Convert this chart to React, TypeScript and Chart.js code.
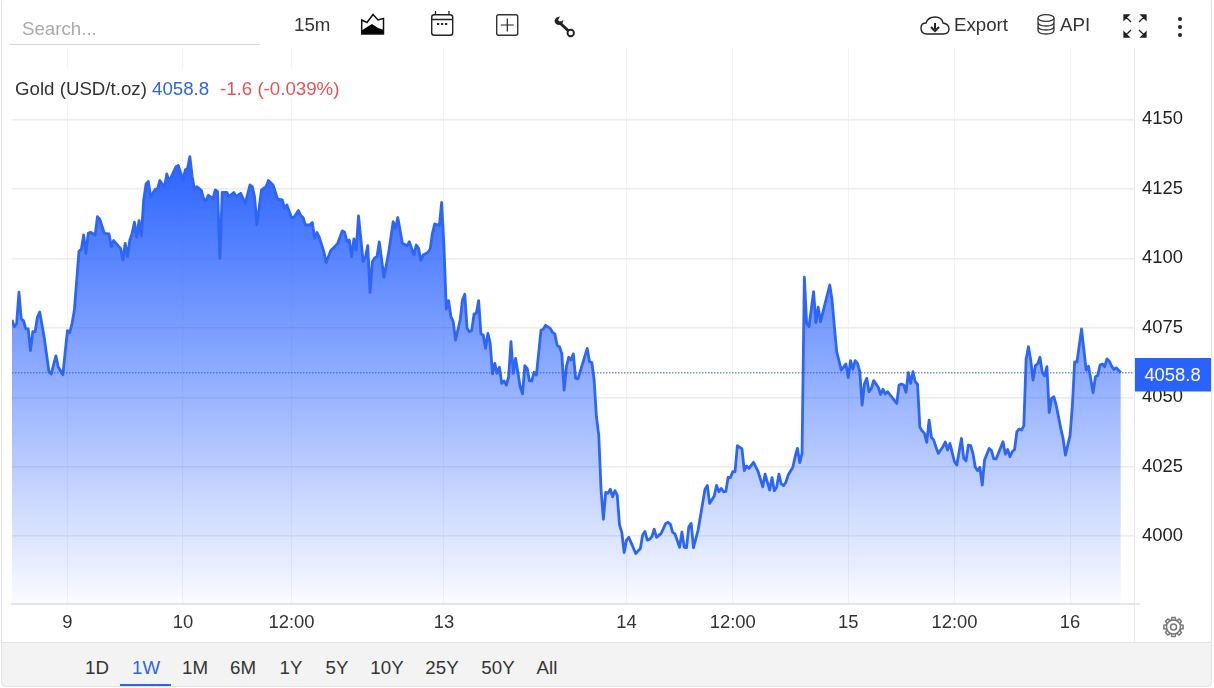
import React, { useEffect, useRef } from "react";
import { Chart, registerables } from "chart.js";

Chart.register(...registerables);

// 15-minute bar number of each reading
const bars = [
  0,1,2,3,4,5,6,7,8,9,10,11,12,14,16,17,19,20,22,24,25,26,27,29,30,31,32,33,34,36,37,38,40,42,43,44,46,47,48,49,50,51,52,53,54,55,56,57,58,59,60,62,63,64,66,67,68,71,72,74,75,76,77,78,79,80,82,83,84,85,87,88,89,90,91,93,94,96,97,99,101,103,104,105,106,108,110,111,113,115,117,118,119,121,
  122,124,125,126,127,129,130,131,132,133,135,136,138,139,141,143,144,145,146,147,148,149,150,152,153,154,155,156,157,158,159,161,163,165,166,167,169,171,172,174,175,176,177,178,180,181,182,183,185,186,187,188,189,190,191,192,194,195,196,197,198,199,200,201,202,203,204,205,206,207,208,209,210,211,212,213,214,215,216,217,218,220,221,222,223,224,225,226,227,229,230,231,233,234,235,236,237,238,239,240,241,242,243,244,245,249,250,251,252,
  253,254,255,256,257,258,259,260,261,262,263,264,265,266,267,268,270,272,273,274,275,276,277,278,279,281,283,284,285,286,287,289,290,291,292,293,294,295,297,300,301,302,304,305,306,307,308,309,310,311,312,313,314,316,317,318,319,321,323,325,326,328,329,330,331,332,333,334,335,336,338,339,340,341,342,
  343,344,345,347,348,349,350,354,355,356,357,359,361,362,363,364,365,366,367,368,369,370,371,372,373,375,376,377,378,379,383,384,385,386,387,388,389,390,391,392,393,394,395,396,397,398,399,400,401,402,403,404,405,406,408,409,411,412,413,414,415,416,417,418,419,420,421,423,424,425,426,429,430,431,432,433,434,435,436,437,438,439,440,441,442,443,444,445,446,447,448,449,450,451,452,454,455,456,458,459,460,461,463,465,466,468,469,470,471,472,473,474,475,476,477,478,480,
];

// Gold price at each of those bars (USD/t.oz)
const prices = [
  4077.8,4075.4,4076.4,4087.8,4078.2,4077.5,4074.6,4074.6,4066.8,4073.6,4073.6,4078.8,4080.7,4071.2,4059.2,4058.4,4064.9,4061.0,4058.1,4074.0,4073.3,4076.6,4081.4,4102.6,4103.2,4108.4,4101.8,4109.0,4109.4,4108.4,4115.0,4114.1,4109.0,4108.8,4104.2,4106.4,4104.5,4103.6,4099.4,4105.4,4100.6,4106.6,4109.0,4113.0,4107.6,4113.6,4108.0,4121.0,4126.7,4127.7,4122.2,4124.9,4124.9,4128.0,4125.6,4130.4,4127.6,4133.0,4133.4,4128.2,4131.8,4132.4,4136.6,4129.4,4124.9,4125.8,4124.4,4121.3,4120.8,4122.7,4121.5,4124.6,4124.0,4100.0,4123.7,4123.7,4122.2,4123.7,4122.2,4123.4,4119.8,4126.4,4125.8,4122.2,4112.0,4124.6,4125.8,4128.0,4126.4,4121.3,4121.0,4118.0,4119.2,4114.7,
  4114.7,4117.2,4115.4,4114.7,4112.0,4112.0,4112.9,4107.2,4109.3,4107.6,4102.4,4098.5,4102.8,4103.6,4105.4,4109.9,4109.4,4106.0,4106.6,4100.6,4107.0,4103.0,4115.3,4098.8,4100.4,4104.6,4087.7,4098.8,4100.1,4100.6,4105.9,4093.2,4101.8,4113.2,4110.8,4114.7,4105.4,4104.5,4106.0,4101.2,4104.8,4103.6,4099.2,4101.2,4102.1,4103.3,4109.0,4112.4,4111.8,4120.1,4104.2,4081.7,4084.8,4079.0,4077.2,4070.6,4077.8,4085.0,4087.1,4074.8,4073.6,4074.0,4079.9,4080.2,4084.8,4072.8,4072.4,4067.6,4073.0,4069.4,4058.4,4062.2,4058.6,4060.8,4055.0,4055.9,4054.4,4057.4,4070.0,4058.6,4064.0,4053.8,4051.2,4061.4,4060.4,4055.9,4055.9,4059.0,4058.0,4074.2,4074.5,4075.9,4074.8,4073.3,4072.8,4068.6,4068.2,4065.8,4052.6,4061.0,4064.4,4063.4,4065.6,4056.8,4056.6,4067.6,4062.8,4062.5,4056.2,
  4043.0,4036.4,4016.6,4006.1,4015.8,4015.4,4016.9,4014.2,4016.4,4014.8,4004.0,4001.3,3994.1,3998.6,3999.6,3997.7,3993.8,3995.6,4000.4,4001.7,3998.6,3998.9,3999.8,4002.5,3999.6,4001.0,4004.6,4005.0,4004.3,4001.4,4000.8,3996.0,4001.5,3996.0,3995.9,4003.4,4004.6,3995.9,4002.2,4016.9,4018.3,4011.8,4014.5,4018.3,4016.0,4017.2,4016.0,4016.1,4021.2,4021.1,4023.2,4023.2,4032.6,4031.4,4023.6,4025.3,4024.4,4026.6,4023.2,4017.8,4022.3,4016.6,4021.1,4016.4,4017.6,4022.3,4018.8,4018.2,4019.4,4022.0,4024.8,4028.6,4031.6,4026.5,4029.8,
  4093.2,4076.6,4075.4,4088.0,4076.9,4082.4,4077.2,4090.4,4085.0,4075.4,4066.4,4059.8,4062.0,4057.1,4063.2,4060.1,4063.2,4062.2,4059.2,4047.2,4054.8,4056.8,4052.0,4053.2,4056.0,4053.6,4051.0,4052.9,4051.2,4052.0,4047.8,4054.4,4054.8,4054.4,4051.8,4058.9,4055.0,4059.2,4055.6,4054.7,4039.2,4037.9,4037.0,4033.8,4041.8,4035.6,4034.6,4032.0,4029.8,4031.0,4032.2,4033.9,4031.0,4033.4,4026.8,4025.6,4035.2,4028.0,4027.1,4032.8,4032.6,4029.8,4024.8,4023.6,4024.8,4018.4,4027.4,4031.6,4030.8,4027.8,4027.8,4034.0,4029.5,4031.2,4028.6,4030.4,4031.2,4037.6,4038.6,4038.2,4039.7,4063.8,4068.2,4063.4,4056.2,4061.4,4062.0,4064.4,4058.9,4057.7,4061.0,4044.5,4049.6,4050.2,4047.2,4038.8,4035.2,4029.2,4036.2,4046.6,4062.7,4062.7,4074.6,4059.8,4061.2,4051.7,4057.4,4057.8,4061.6,4062.0,4061.0,4063.8,4063.0,4061.2,4060.0,4060.6,4058.8,
];

const lastPrice = 4058.8;
const xTickBars = [24, 74, 121, 187, 266, 312, 362, 408, 458];
const xTickLabels = ["9", "10", "12:00", "13", "14", "12:00", "15", "12:00", "16"];
const yTickValues = [4000, 4025, 4050, 4075, 4100, 4125, 4150];
const ranges = ["1D", "1W", "1M", "6M", "1Y", "5Y", "10Y", "25Y", "50Y", "All"];
const rangeCentres = [97, 146, 195, 243, 291, 337, 387, 442, 498, 547];

const BLUE = "#2962ff";
const FONT = '"Liberation Sans", Arial, sans-serif';
const FS = 18.4;
const HTML_FS = 18.7;

const lastPricePlugin = {
  id: "lastPriceBox",
  afterDraw(chart: any) {
    const { ctx, scales } = chart;
    const y = Math.round(scales.y.getPixelForValue(lastPrice));
    ctx.save();
    ctx.fillStyle = BLUE;
    ctx.fillRect(1135, y - 15, 76, 33.5);
    ctx.fillStyle = "#fff";
    ctx.font = `${FS}px ${FONT}`;
    ctx.textAlign = "center";
    ctx.textBaseline = "middle";
    ctx.fillText(String(lastPrice), 1172.5, y + 3);
    ctx.restore();
  },
};

const txt = (left: number, top: number, s: string, extra: any = {}) => (
  <div
    key={s + left}
    style={{
      position: "absolute",
      left,
      top,
      fontFamily: FONT,
      fontSize: HTML_FS,
      lineHeight: "22px",
      color: "#333",
      whiteSpace: "nowrap",
      ...extra,
    }}
  >
    {s}
  </div>
);

function Icons() {
  return (
    <svg width={1214} height={688} style={{ position: "absolute", left: 0, top: 0, pointerEvents: "none" }}>
      {/* area chart */}
      <path d="M361 34 V31 L367 27 L372 24 L378 28 L384 30 V34 Z" fill="#000" />
      <path d="M361.7 34 V20 L367 22.5 L373 14.5 L378 20 L383.5 18.5 V34 Z" fill="none" stroke="#111" strokeWidth="1.5" />
      {/* calendar */}
      <rect x="431.7" y="14.7" width="21" height="20.6" rx="2.5" fill="none" stroke="#222" strokeWidth="1.4" />
      <path d="M432 19.5 H452.5 M435.5 11 V15 M449 11 V15" stroke="#222" strokeWidth="1.3" />
      <path d="M437 24 h2.2 M441 24 h2.2 M445 24 h2.2" stroke="#222" strokeWidth="2" />
      {/* plus box */}
      <rect x="496.7" y="14.7" width="21" height="20.6" rx="2" fill="none" stroke="#333" strokeWidth="1.4" />
      <path d="M507.3 18.5 V31.5 M500.8 25 H513.8" stroke="#222" strokeWidth="1.2" />
      {/* wrench */}
      <path d="M559 22 L568.5 31" stroke="#222" strokeWidth="3" />
      <path d="M554.5 20.5 Q555.5 17 560 16.5 L558 20 L560 22 L563.5 20 Q563 24.5 558.5 25 Q555 24.5 554.5 20.5 Z" fill="#222" />
      <circle cx="570.7" cy="33" r="3.2" fill="none" stroke="#222" strokeWidth="1.9" />
      {/* cloud */}
      <path d="M927 34 Q921 34 921 28 Q921 23 926 23 Q928 17 935 17 Q942 17 943 23 Q949 24 949 29 Q949 34 943 34 Z" fill="none" stroke="#222" strokeWidth="1.4" />
      <path d="M935 23 V29 M931 27 L935 31 L939 27" fill="none" stroke="#222" strokeWidth="2" />
      {/* database */}
      <ellipse cx="1046" cy="18" rx="8" ry="3.4" fill="none" stroke="#333" strokeWidth="1.3" />
      <path d="M1038 18 V30 Q1038 34 1046 34 Q1054 34 1054 30 V18 M1038 22 Q1038 26 1046 26 Q1054 26 1054 22 M1038 26 Q1038 30 1046 30 Q1054 30 1054 26" fill="none" stroke="#333" strokeWidth="1.3" />
      {/* expand */}
      <path d="M1125 16 L1131 22 M1124 15 h5 l-5 5 Z M1145 16 L1139 22 M1146 15 h-5 l5 5 Z M1125 36 L1131 30 M1124 37 h5 l-5 -5 Z M1145 36 L1139 30 M1146 37 h-5 l5 -5 Z" fill="#222" stroke="#222" strokeWidth="1.3" />
      {/* more */}
      <circle cx="1180" cy="19" r="2" fill="#222" />
      <circle cx="1180" cy="27" r="2" fill="#222" />
      <circle cx="1180" cy="35" r="2" fill="#222" />
      {/* gear */}
      <g transform="translate(1173.5 627)" fill="none" stroke="#777" strokeWidth="1.5">
        <circle r="3" />
        <circle r="7" />
        {[0, 45, 90, 135, 180, 225, 270, 315].map((a) => (
          <path key={a} d="M-2.2 -6.8 L-1.6 -9.6 H1.6 L2.2 -6.8" transform={`rotate(${a})`} />
        ))}
      </g>
    </svg>
  );
}

export default function App() {
  const ref = useRef<HTMLCanvasElement>(null);

  useEffect(() => {
    const chart = new Chart(ref.current as HTMLCanvasElement, {
      type: "line",
      data: {
        datasets: [
          {
            label: "Last",
            data: [
              { x: 0, y: lastPrice },
              { x: 486, y: lastPrice },
            ],
            borderColor: "#3a5cc8",
            borderWidth: 1,
            borderDash: [1.5, 1.5],
            pointRadius: 0,
            fill: false,
          },
          {
            label: "Gold",
            data: bars.map((b, i) => ({ x: b, y: prices[i] })),
            borderColor: "#2d66f5",
            borderWidth: 2.8,
            borderJoinStyle: "round",
            pointRadius: 0,
            tension: 0,
            fill: "start",
            backgroundColor: (c: any) => {
              const { chart: ch } = c;
              if (!ch.chartArea) return "rgba(41,98,255,.5)";
              const top = ch.scales.y.getPixelForValue(Math.max(...prices));
              const g = ch.ctx.createLinearGradient(0, top, 0, ch.chartArea.bottom);
              g.addColorStop(0, "rgba(41,98,255,1)");
              g.addColorStop(1, "rgba(41,98,255,0.02)");
              return g;
            },
          },
        ],
      },
      options: {
        responsive: false,
        animation: false,
        events: [],
        layout: { padding: { left: 12, top: 48, right: 0, bottom: 0 } },
        plugins: { legend: { display: false }, tooltip: { enabled: false } },
        scales: {
          x: {
            type: "linear",
            min: 0,
            max: 485.7,
            afterBuildTicks: (s: any) => {
              s.ticks = xTickBars.map((v) => ({ value: v }));
            },
            afterFit: (s: any) => {
              s.height = 84;
            },
            grid: { color: "#f0f2f6", lineWidth: 1, drawTicks: false },
            border: { color: "#e6e6e6", width: 2 },
            ticks: {
              autoSkip: false,
              maxRotation: 0,
              padding: 8,
              color: "#333",
              font: { family: FONT, size: FS },
              callback: (v: any) => {
                const i = xTickBars.indexOf(v);
                return i >= 0 ? xTickLabels[i] : "";
              },
            },
          },
          y: {
            position: "right",
            min: 3975.6,
            max: 4175.7,
            afterBuildTicks: (s: any) => {
              s.ticks = yTickValues.map((v) => ({ value: v }));
            },
            afterFit: (s: any) => {
              s.width = 80;
            },
            grid: { color: "#ebebeb", lineWidth: 1.5, drawTicks: false },
            border: { display: false },
            ticks: {
              padding: 8,
              color: "#222",
              font: { family: FONT, size: FS },
              callback: (v: any) => String(v),
            },
          },
        },
      },
      plugins: [lastPricePlugin],
    } as any);
    return () => chart.destroy();
  }, []);

  return (
    <div style={{ position: "fixed", inset: 0, overflow: "hidden", background: "#fff" }}>
      <canvas ref={ref} width={1214} height={688} style={{ position: "absolute", left: 0, top: 0, width: 1214, height: 688 }} />
      {/* axis separator */}
      <div style={{ position: "absolute", left: 1134, top: 48, width: 1, height: 594, background: "#e9e9e9" }} />
      <div style={{ position: "absolute", left: 1134, top: 603, width: 6, height: 2, background: "#e6e6e6" }} />
      {/* legend */}
      <div style={{ position: "absolute", left: 12, top: 68, width: 335, height: 30, background: "#fff" }} />
      {txt(15, 78, "Gold (USD/t.oz)")}
      {txt(152, 78, "4058.8", { color: "#2f66e0" })}
      {txt(220, 78, "-1.6 (-0.039%)", { color: "#e25555" })}
      {/* toolbar */}
      {txt(22, 18, "Search...", { color: "#aaa" })}
      <div style={{ position: "absolute", left: 10, top: 44, width: 250, height: 1, background: "#d8d8d8" }} />
      {txt(294, 14, "15m")}
      {txt(954, 14, "Export")}
      {txt(1060, 14, "API")}
      {/* range bar */}
      <div
        style={{
          position: "absolute",
          left: 2,
          top: 642,
          width: 1209,
          height: 44,
          background: "#f3f3f3",
          borderTop: "1px solid #e2e2e2",
          boxSizing: "border-box",
        }}
      />
      {ranges.map((r, i) =>
        txt(rangeCentres[i], 657, r, {
          transform: "translateX(-50%)",
          color: r === "1W" ? "#2f66e0" : "#333",
        })
      )}
      <div style={{ position: "absolute", left: 120, top: 684, width: 51, height: 2, background: BLUE }} />
      {/* outer frame */}
      <div
        style={{
          position: "absolute",
          left: 1,
          top: -2,
          width: 1211,
          height: 689,
          border: "1px solid #e4e4e4",
          borderRadius: 4,
          boxSizing: "border-box",
          pointerEvents: "none",
        }}
      />
      <Icons />
    </div>
  );
}
